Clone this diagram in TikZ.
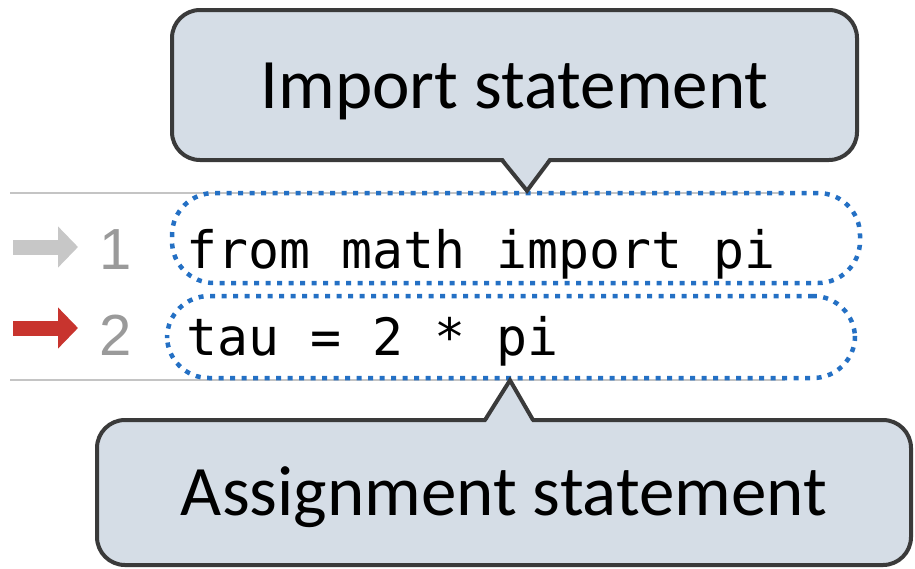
\documentclass[tikz,border=0pt]{standalone}
\usepackage{fontspec}
\setmainfont{Carlito}
\setmonofont{DejaVu Sans Mono}
\newfontfamily\numfont{Liberation Sans}
\usetikzlibrary{arrows.meta}
\definecolor{calloutfill}{HTML}{D5DDE6}
\definecolor{calloutdraw}{HTML}{3A3A3A}
\definecolor{dotblue}{HTML}{2470C4}
\definecolor{rulegray}{HTML}{C4C4C4}
\definecolor{numgray}{HTML}{9A9A9A}
\definecolor{arrowred}{HTML}{C8342E}
\tikzset{
  callout/.style={draw=calloutdraw,fill=calloutfill,line width=4pt,rounded corners=28pt,
    inner sep=0pt,text height=46pt,text depth=0pt,font=\fontsize{71}{76}\selectfont},
  codebox/.style={draw=dotblue,line width=4.5pt,dash pattern=on 5pt off 6.5pt,
    rounded corners=42pt,inner sep=0pt},
  codetext/.style={anchor=base west,inner sep=0pt,font=\ttfamily\fontsize{51.5}{60}\selectfont},
  linenum/.style={anchor=base west,inner sep=0pt,text=numgray,font=\numfont\fontsize{58}{60}\selectfont},
  linearrow/.style={-{Triangle[length=20pt,width=40pt]},line width=15pt}
}
\begin{document}
\begin{tikzpicture}[x=1pt,y=-1pt]
        \useasboundingbox (0,0) rectangle (915,568);
        % rules of the code listing
        \draw[rulegray,line width=2.5pt](10,193)--(785,193);
        \draw[rulegray,line width=2.5pt](10,380)--(785,380);
        % line markers
        \draw[linearrow,numgray!55](13,247)--(78,247);
        \draw[linearrow,arrowred](13,328)--(78,328);
        \node[linenum](n1) at (99,269){1};
        \node[linenum](n2) at (99,355){2};
        % the two statements
        \node[codebox,minimum width=688pt,minimum height=90pt](line1) at (516,238){};
        \node[codebox,minimum width=688pt,minimum height=82pt](line2) at (511,337){};
        \node[codetext](code1) at (186,268){from math import pi};
        \node[codetext](code2) at (186,355){tau = 2 * pi};
        % callouts
        \node[callout,minimum width=685pt,minimum height=150pt](imp) at (514.5,85){Import statement};
        \node[callout,minimum width=814pt,minimum height=145pt](asg) at (504,492.5){Assignment statement};
        \fill[calloutfill](502,156)--(line1.north-|527,0)--(550,156)--cycle;
        \draw[calloutdraw,line width=4pt](502,160)--(line1.north-|527,0)--(550,160);
        \fill[calloutfill](485,424)--(line2.south-|510,0)--(533,424)--cycle;
        \draw[calloutdraw,line width=4pt](485,420)--(line2.south-|510,0)--(533,420);
    \end{tikzpicture}
\end{document}
